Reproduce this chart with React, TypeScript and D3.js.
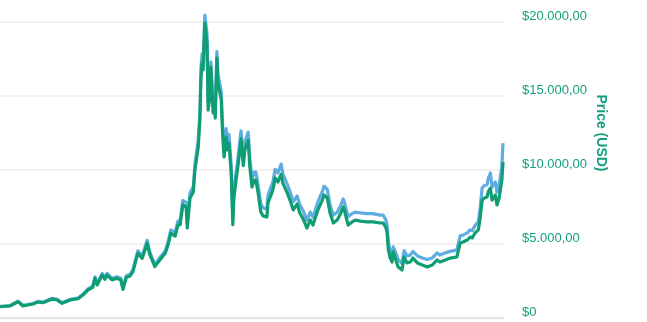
import React from "react";
import * as d3 from "d3";

// days since 2016-12-09
const days = [0,18,33,42,60,69,78,95,104,113,128,142,151,160,169,173,177,186,191,195,204,213,220,224,230,237,242,251,259,268,273,282,291,301,306,311,319,324,328,333,339,341,346,352,355,361,364,366,368,370,373,377,379,383,384,388,390,392,395,397,403,404,406,408,412,413,417,421,424,426,430,434,439,443,446,452,455,459,463,466,470,475,479,486,488,495,497,501,506,512,515,523,528,534,541,546,552,559,565,570,574,579,587,590,596,601,607,614,619,625,628,634,641,647,656,668,679,692,698,703,705,707,710,714,716,721,725,732,736,741,747,752,760,769,778,787,796,801,811,820,832,838,843,851,856,860,865,871,874,878,882,887,889,893,896,902,905,909,913,914,916];

const priceClose = [760,810,1100,810,946,1080,1030,1280,1216,990,1216,1300,1550,1890,2070,2680,2230,2900,2610,2900,2570,2680,2570,1940,2750,2840,3130,4370,4030,5050,4260,3470,3920,4370,4930,5720,5540,6280,6300,7640,7500,6080,8100,8510,10000,11550,13380,16280,17230,16760,19930,18580,14050,15200,16960,13850,14530,13510,17570,15880,14730,13580,12030,10880,12230,11350,11820,9800,6300,8180,9320,10470,12100,10300,11350,12000,10200,8850,9300,9320,8450,7160,6900,6820,7770,8450,8650,9460,9190,9700,9120,8450,7970,7300,7700,7090,6700,6080,6620,6280,6760,7300,7970,8310,8110,7090,6420,6620,6960,7500,7160,6280,6490,6620,6550,6490,6490,6420,6420,6080,5740,4700,4120,3780,4460,3920,3450,3240,4120,3720,3780,4050,3720,3580,3450,3580,3920,3780,3920,4050,4120,5070,5140,5270,5470,5410,5740,5950,6620,7970,8110,8180,8510,8780,7970,8310,7640,8110,9120,9320,10540];

const priceHigh = [790,840,1140,850,980,1120,1070,1330,1260,1030,1260,1350,1610,1960,2150,2780,2320,3010,2720,3020,2680,2790,2680,2020,2860,2950,3250,4540,4190,5250,4430,3610,4080,4550,5130,5950,5780,6550,6600,7950,7820,6350,8450,8880,10400,12000,13900,16900,17850,17400,20470,19200,14600,15800,17300,14400,15100,14050,18000,16450,15300,14150,12600,11450,12800,11900,12400,10350,6800,8700,9850,11000,12650,10850,11900,12550,10750,9400,9850,9850,9000,7700,7450,7350,8300,9000,9200,10050,9800,10400,9750,9050,8550,7850,8250,7650,7250,6600,7150,6800,7300,7850,8550,8900,8700,7650,6950,7150,7500,8050,7700,6850,7050,7150,7100,7050,7050,6950,6950,6600,6250,5200,4600,4250,4800,4400,3950,3700,4550,4200,4250,4500,4200,4050,3950,4050,4400,4250,4400,4500,4600,5550,5600,5750,5950,5900,6250,6500,7300,8800,8950,9000,9400,9800,8850,9200,8500,9000,10000,10300,11820];

const yTicks = [0, 5000, 10000, 15000, 20000];
const axisTitle = "Price (USD)";
const startDate = new Date(2016, 11, 9);

const locale = d3.formatLocale({
  decimal: ",",
  thousands: ".",
  grouping: [3],
  currency: ["$", ""],
});
const fmt = locale.format("$,.2f");

export default function App() {
  const W = 647, H = 322;
  const dates = days.map((d) => d3.timeDay.offset(startDate, d));
  const x = d3.scaleTime().domain([dates[0], dates[dates.length - 1]]).range([0, 503]);
  const y = d3.scaleLinear().domain([0, 20000]).range([318, 22]);

  const lineGen = (vals: number[]) =>
    d3.line<number>()
      .x((_, i) => x(dates[i]))
      .y((v) => y(v))(vals) || "";

  const green = "#0f9e74";
  const textGreen = "#14a07c";
  const blue = "#5dade2";

  return (
    <svg width={W} height={H} style={{ position: "fixed", left: 0, top: 0, display: "block" }}
      fontFamily="'Liberation Sans', Arial, sans-serif">
      {yTicks.map((t) => (
        <line key={t} x1={0} x2={504} y1={y(t)} y2={y(t)}
          stroke={t === 0 ? "#e6e6e6" : "#e3e3e3"} strokeWidth={t === 0 ? 2.5 : 1.2} />
      ))}
      <path d={lineGen(priceHigh)} fill="none" stroke={blue} strokeWidth={3.2} strokeLinejoin="round" />
      <path d={lineGen(priceClose)} fill="none" stroke={green} strokeWidth={3.2} strokeLinejoin="round" />
      {yTicks.map((t) => (
        <text key={"l" + t} x={522} y={y(t) - 2.5} fontSize={13} fill={textGreen}>
          {t === 0 ? "$0" : fmt(t)}
        </text>
      ))}
      <text transform={`translate(597,133) rotate(90)`} textAnchor="middle"
        fontSize={14} fontWeight="bold" fill={textGreen}>
        {axisTitle}
      </text>
    </svg>
  );
}
